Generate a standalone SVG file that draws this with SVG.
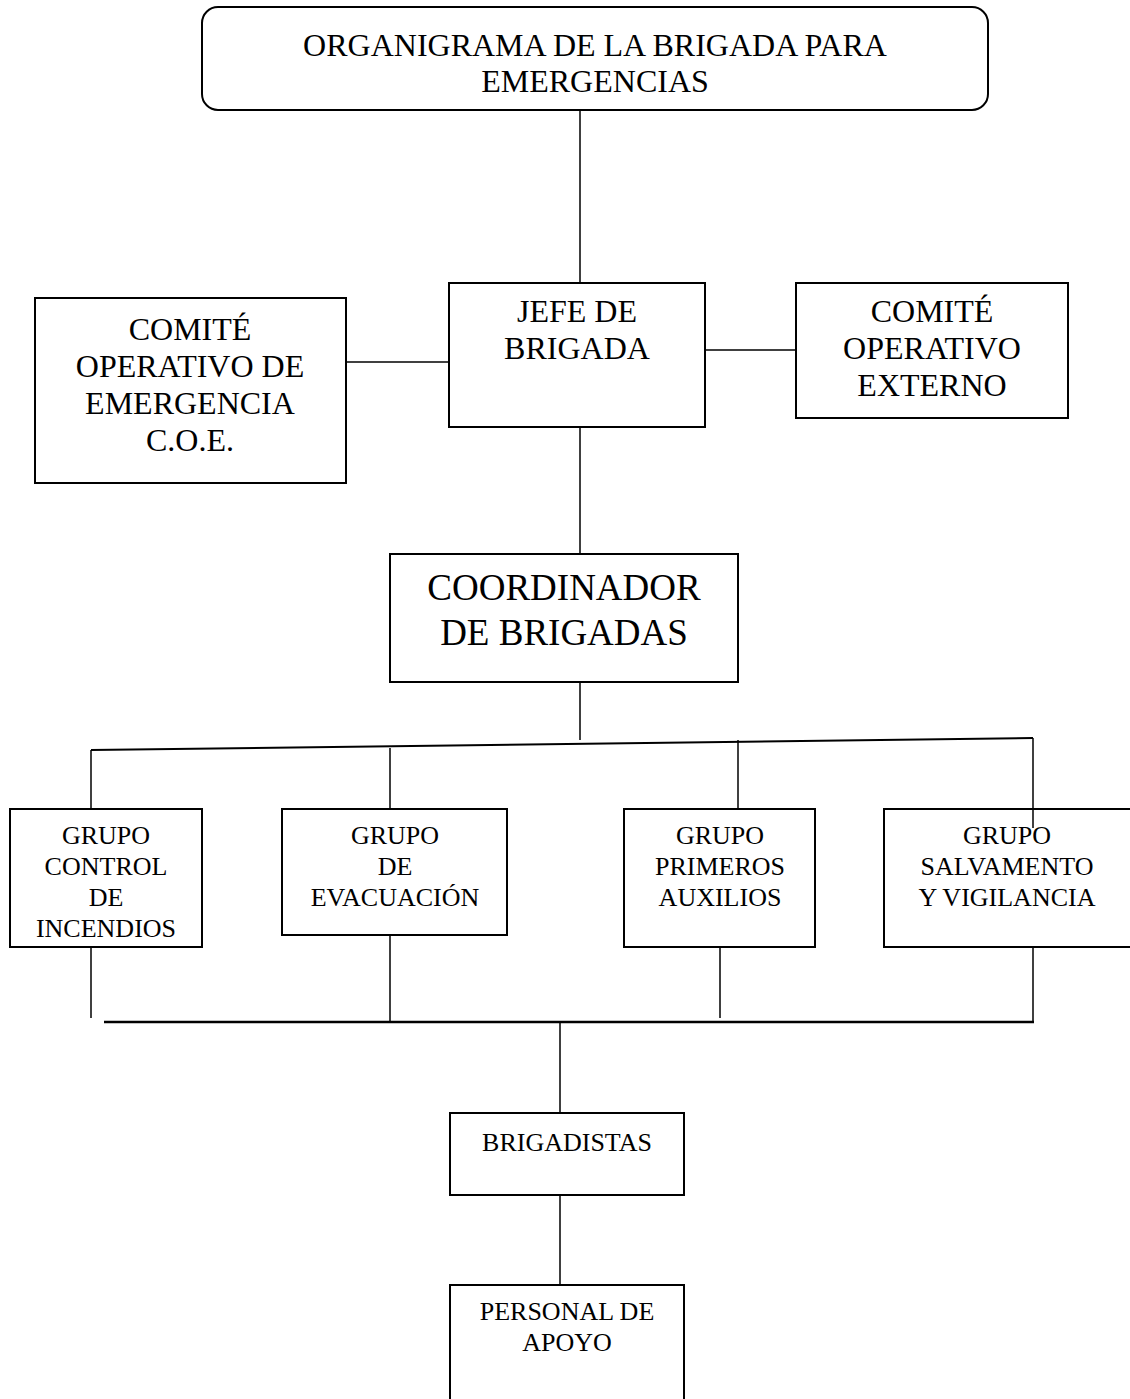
<svg xmlns="http://www.w3.org/2000/svg" width="1130" height="1399" viewBox="0 0 1130 1399">
<style>
.box{fill:#fff;stroke:#000;stroke-width:2}
.ln{stroke:#000;stroke-width:1.5;fill:none}
text{font-family:"Liberation Serif","Times New Roman",serif;fill:#000;text-anchor:middle}
.t32{font-size:32px}
.t37{font-size:37px}
.t26{font-size:26px}
</style>
<rect width="1130" height="1399" fill="#fff"/>
<g id="title">
<rect class="box" x="202" y="7" width="786" height="103" rx="16"/>
<text class="t32" x="595" y="56">ORGANIGRAMA DE LA BRIGADA PARA</text>
<text class="t32" x="595" y="92">EMERGENCIAS</text>
</g>
<g id="coe">
<rect class="box" x="35" y="298" width="311" height="185"/>
<text class="t32" x="190" y="340">COMITÉ</text>
<text class="t32" x="190" y="377">OPERATIVO DE</text>
<text class="t32" x="190" y="414">EMERGENCIA</text>
<text class="t32" x="190" y="451">C.O.E.</text>
</g>
<g id="jefe">
<rect class="box" x="449" y="283" width="256" height="144"/>
<text class="t32" x="577" y="322">JEFE DE</text>
<text class="t32" x="577" y="359">BRIGADA</text>
</g>
<g id="externo">
<rect class="box" x="796" y="283" width="272" height="135"/>
<text class="t32" x="932" y="322">COMITÉ</text>
<text class="t32" x="932" y="359">OPERATIVO</text>
<text class="t32" x="932" y="396">EXTERNO</text>
</g>
<g id="coordinador">
<rect class="box" x="390" y="554" width="348" height="128"/>
<text class="t37" x="564" y="600">COORDINADOR</text>
<text class="t37" x="564" y="645">DE BRIGADAS</text>
</g>
<g id="incendios">
<rect class="box" x="10" y="809" width="192" height="138"/>
<text class="t26" x="106" y="844">GRUPO</text>
<text class="t26" x="106" y="875">CONTROL</text>
<text class="t26" x="106" y="906">DE</text>
<text class="t26" x="106" y="937">INCENDIOS</text>
</g>
<g id="evacuacion">
<rect class="box" x="282" y="809" width="225" height="126"/>
<text class="t26" x="395" y="844">GRUPO</text>
<text class="t26" x="395" y="875">DE</text>
<text class="t26" x="395" y="906">EVACUACIÓN</text>
</g>
<g id="auxilios">
<rect class="box" x="624" y="809" width="191" height="138"/>
<text class="t26" x="720" y="844">GRUPO</text>
<text class="t26" x="720" y="875">PRIMEROS</text>
<text class="t26" x="720" y="906">AUXILIOS</text>
</g>
<g id="salvamento">
<rect class="box" x="884" y="809" width="250" height="138"/>
<text class="t26" x="1007" y="844">GRUPO</text>
<text class="t26" x="1007" y="875">SALVAMENTO</text>
<text class="t26" x="1007" y="906">Y VIGILANCIA</text>
</g>
<g id="brigadistas">
<rect class="box" x="450" y="1113" width="234" height="82"/>
<text class="t26" x="567" y="1151">BRIGADISTAS</text>
</g>
<g id="personal">
<rect class="box" x="450" y="1285" width="234" height="130"/>
<text class="t26" x="567" y="1320">PERSONAL DE</text>
<text class="t26" x="567" y="1351">APOYO</text>
</g>
<g id="connectors">
<line class="ln" x1="580" y1="110" x2="580" y2="283"/>
<line class="ln" x1="346" y1="362" x2="449" y2="362"/>
<line class="ln" x1="705" y1="350" x2="796" y2="350"/>
<line class="ln" x1="580" y1="427" x2="580" y2="554"/>
<line class="ln" x1="580" y1="682" x2="580" y2="740"/>
<line class="ln" style="stroke-width:2" x1="91" y1="750" x2="1033" y2="738"/>
<line class="ln" x1="91" y1="750" x2="91" y2="809"/>
<line class="ln" x1="390" y1="748" x2="390" y2="809"/>
<line class="ln" x1="738" y1="740" x2="738" y2="809"/>
<line class="ln" x1="1033" y1="738" x2="1033" y2="828"/>
<line class="ln" x1="91" y1="947" x2="91" y2="1018"/>
<line class="ln" x1="390" y1="935" x2="390" y2="1022"/>
<line class="ln" x1="720" y1="947" x2="720" y2="1018"/>
<line class="ln" x1="1033" y1="947" x2="1033" y2="1022"/>
<line class="ln" style="stroke-width:2.5" x1="104" y1="1022" x2="1034" y2="1022"/>
<line class="ln" x1="560" y1="1022" x2="560" y2="1113"/>
<line class="ln" x1="560" y1="1195" x2="560" y2="1285"/>
</g>
</svg>
